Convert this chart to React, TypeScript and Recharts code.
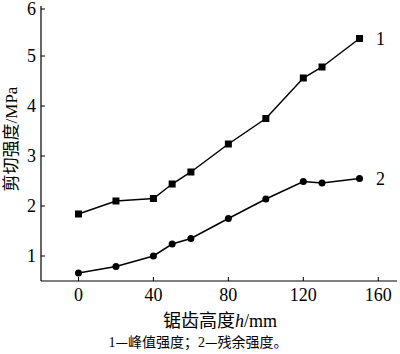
import React from 'react';
import { LineChart, Line, XAxis, YAxis } from 'recharts';

const heights = [0, 20, 40, 50, 60, 80, 100, 120, 130, 150];
const peakStrength = [1.84, 2.1, 2.15, 2.44, 2.68, 3.24, 3.75, 4.56, 4.78, 5.35];
const residualStrength = [0.66, 0.79, 1.0, 1.24, 1.35, 1.75, 2.14, 2.49, 2.46, 2.55];
const xTicks = [0, 40, 80, 120, 160];
const yTicks = [1, 2, 3, 4, 5, 6];
const seriesNames = ['1', '2'];

const data = heights.map((h, i) => ({ h, peak: peakStrength[i], residual: residualStrength[i] }));

const SERIF = '"Liberation Serif", "Times New Roman", serif';
const CJK = '"Noto Sans CJK SC", sans-serif';
const X_MARGIN = 7;
const Y_MARGIN = 5;

const XTick = (props: any) => {
  const { x, y, payload } = props;
  const ay = y - X_MARGIN;
  return (
    <g>
      <line x1={x} x2={x} y1={ay} y2={ay - 4} stroke="#000" strokeWidth={1} />
      <text x={x} y={y} dy="0.71em" textAnchor="middle" fontFamily={SERIF} fontSize={18} fill="#000">
        {payload.value}
      </text>
    </g>
  );
};

const YTick = (props: any) => {
  const { x, y, payload } = props;
  const ax = x + Y_MARGIN;
  return (
    <g>
      <line x1={ax} x2={ax + 4} y1={y} y2={y} stroke="#000" strokeWidth={1} />
      <text x={x} y={y} dy="0.34em" textAnchor="end" fontFamily={SERIF} fontSize={18} fill="#000">
        {payload.value}
      </text>
    </g>
  );
};

const SquareDot = (props: any) => {
  const { cx, cy, index } = props;
  if (cx == null || cy == null) return <g key={index} />;
  return <rect key={index} x={cx - 3.5} y={cy - 3.5} width={7} height={7} fill="#000" />;
};

const CircleDot = (props: any) => {
  const { cx, cy, index } = props;
  if (cx == null || cy == null) return <g key={index} />;
  return <circle key={index} cx={cx} cy={cy} r={3.5} fill="#000" />;
};

const endLabel = (name: string) => (props: any) => {
  const { x, y, index } = props;
  if (index !== heights.length - 1) return <g key={index} />;
  return (
    <text key={index} x={x + 21} y={y} dy="0.34em" textAnchor="middle" fontFamily={SERIF} fontSize={18} fill="#000">
      {name}
    </text>
  );
};

const XLabel = (props: any) => {
  const vb = props.viewBox || {};
  const top = vb.y ?? 281;
  return (
    <g>
      <text x={220} y={top + 46} textAnchor="middle" fontSize={18} fill="#000">
        <tspan fontFamily={CJK}>锯齿高度</tspan>
        <tspan fontFamily={SERIF} fontStyle="italic">h</tspan>
        <tspan fontFamily={SERIF}>/mm</tspan>
      </text>
      <text x={198} y={top + 66} textAnchor="middle" fontSize={14} fill="#000">
        <tspan fontFamily={SERIF}>1</tspan>
        <tspan fontFamily={CJK}>—峰值强度；</tspan>
        <tspan fontFamily={SERIF}>2</tspan>
        <tspan fontFamily={CJK}>—残余强度。</tspan>
      </text>
    </g>
  );
};

const YLabel = () => (
  <g transform="translate(11, 139) rotate(-90)">
    <text x={0} y={0} textAnchor="middle" dy="0.36em" fontSize={17} fill="#000">
      <tspan fontFamily={CJK}>剪切强度</tspan>
      <tspan fontFamily={SERIF}>/MPa</tspan>
    </text>
  </g>
);

export default function App() {
  return (
    <div style={{ position: 'absolute', left: 0, top: 0, width: 400, height: 354, background: '#fff' }}>
      <LineChart width={400} height={354} data={data} margin={{ top: 6, right: 3, bottom: 0, left: 0 }}>
        <XAxis
          xAxisId="b"
          dataKey="h"
          type="number"
          domain={[-20, 170]}
          ticks={xTicks}
          height={73}
          tickSize={0}
          tickMargin={X_MARGIN}
          tick={<XTick />}
          axisLine={{ stroke: '#000', strokeWidth: 1.2 }}
          tickLine={false}
          label={<XLabel />}
          allowDataOverflow
        />
        <XAxis
          xAxisId="t"
          orientation="top"
          dataKey="h"
          type="number"
          domain={[-20, 170]}
          height={0}
          tick={false}
          tickLine={false}
          axisLine={{ stroke: '#000', strokeWidth: 1.2 }}
        />
        <YAxis
          yAxisId="l"
          type="number"
          domain={[0.5, 6]}
          ticks={yTicks}
          width={41}
          tickSize={0}
          tickMargin={Y_MARGIN}
          tick={<YTick />}
          tickLine={false}
          axisLine={{ stroke: '#000', strokeWidth: 1.2 }}
          label={<YLabel />}
          allowDataOverflow
        />
        <YAxis
          yAxisId="r"
          orientation="right"
          type="number"
          domain={[0.5, 6]}
          width={0}
          tick={false}
          tickLine={false}
          axisLine={{ stroke: '#000', strokeWidth: 1.2 }}
        />
        <Line
          xAxisId="b"
          yAxisId="l"
          dataKey="peak"
          stroke="#000"
          strokeWidth={1.5}
          dot={<SquareDot />}
          activeDot={false}
          isAnimationActive={false}
          label={endLabel(seriesNames[0])}
        />
        <Line
          xAxisId="b"
          yAxisId="l"
          dataKey="residual"
          stroke="#000"
          strokeWidth={1.5}
          dot={<CircleDot />}
          activeDot={false}
          isAnimationActive={false}
          label={endLabel(seriesNames[1])}
        />
      </LineChart>
    </div>
  );
}
